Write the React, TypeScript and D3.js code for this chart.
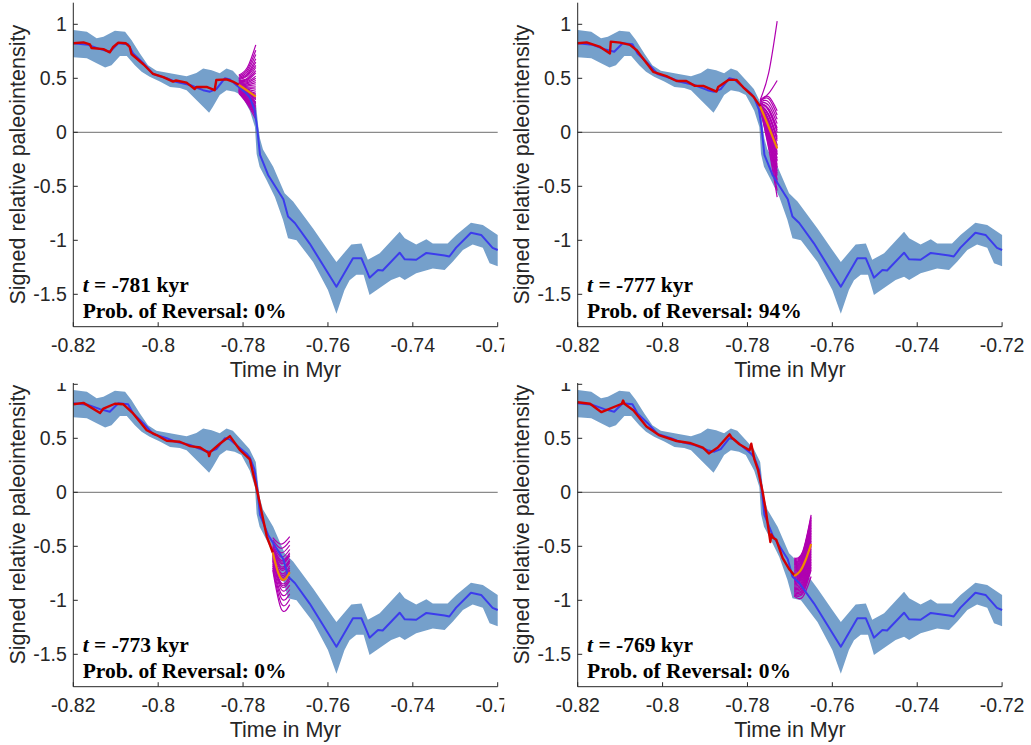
import React from 'react';
import * as d3 from 'd3';

// ---------- axis ticks ----------
const xTicks = [-0.82, -0.8, -0.78, -0.76, -0.74, -0.72];
const xTickLabels = ['-0.82', '-0.8', '-0.78', '-0.76', '-0.74', '-0.72'];
const yTicks = [1, 0.5, 0, -0.5, -1, -1.5];
const yTickLabels = ['1', '0.5', '0', '-0.5', '-1', '-1.5'];

// ---------- shared reconstruction (time in kyr, signed intensity) ----------
const meanCurve: [number, number][] = [
  [-820, 0.824], [-816.5, 0.81], [-813.7, 0.77], [-811.4, 0.746], [-809.4, 0.824],
  [-807.1, 0.815], [-805.9, 0.73], [-803.5, 0.64], [-801.2, 0.54], [-798, 0.5],
  [-796.1, 0.47], [-792.5, 0.438], [-789.4, 0.39], [-787.8, 0.376], [-786.3, 0.4],
  [-784.3, 0.5], [-783.1, 0.49], [-781.6, 0.438], [-779.2, 0.36], [-778.4, 0.32],
  [-777.3, 0.21], [-776.7, 0.05], [-776.3, -0.1], [-776.0, -0.21], [-774.1, -0.395],
  [-772.1, -0.52], [-770.5, -0.62], [-769.4, -0.78], [-767.8, -0.84], [-764.3, -1.03],
  [-758.0, -1.43], [-754.1, -1.167], [-752.1, -1.167], [-750.2, -1.346], [-748.2, -1.275],
  [-747.1, -1.28], [-743.1, -1.115], [-741.9, -1.176], [-739.2, -1.18], [-736.8, -1.117],
  [-732.5, -1.14], [-731.4, -1.15], [-729.8, -1.068], [-726.3, -0.93], [-723.9, -0.95],
  [-721.2, -1.07], [-720, -1.09],
];

const bandUpper: [number, number][] = [
  [-820, 0.947], [-816.8, 0.93], [-814.5, 0.87], [-812.9, 0.885], [-810.2, 0.94],
  [-807.8, 0.93], [-806.3, 0.855], [-804.3, 0.73], [-802.4, 0.62], [-800.4, 0.57],
  [-797.2, 0.546], [-793.3, 0.52], [-791, 0.55], [-789.4, 0.59], [-787.4, 0.575],
  [-785.5, 0.546], [-783.9, 0.59], [-782.4, 0.57], [-780.4, 0.484], [-778.5, 0.4],
  [-777.0, 0.28], [-776.4, 0.05], [-776.0, -0.06], [-775.3, -0.16], [-772.9, -0.32],
  [-770.2, -0.565], [-768.2, -0.64], [-763.5, -0.89], [-760, -1.09], [-758, -1.2],
  [-754.5, -1.04], [-752.1, -1.03], [-750.6, -1.18], [-747.8, -1.12], [-743.1, -0.92],
  [-741.9, -0.98], [-739.2, -1.04], [-736.8, -0.99], [-735.3, -1.03], [-731.8, -1.03],
  [-729.8, -0.95], [-726.3, -0.837], [-723.5, -0.858], [-720, -0.95],
];

const bandLower: [number, number][] = [
  [-820, 0.694], [-816.8, 0.685], [-814.5, 0.64], [-812.5, 0.6], [-811, 0.62],
  [-809, 0.706], [-807.4, 0.706], [-805.5, 0.62], [-803.9, 0.56], [-802, 0.515],
  [-799.6, 0.47], [-797.2, 0.42], [-794.9, 0.41], [-793.3, 0.39], [-791, 0.3],
  [-789.4, 0.237], [-788, 0.18], [-787.1, 0.237], [-785.5, 0.345], [-783.9, 0.39],
  [-782, 0.376], [-780.4, 0.345], [-778.4, 0.2], [-777.2, 0.05], [-776.8, -0.2],
  [-776.1, -0.32], [-774.5, -0.44], [-772.5, -0.6], [-770.6, -0.81], [-769.4, -0.98],
  [-767.4, -1.0], [-763.5, -1.2], [-760, -1.46], [-758, -1.68], [-756.1, -1.46],
  [-754.9, -1.37], [-753.3, -1.32], [-751.6, -1.32], [-750.2, -1.506], [-747.4, -1.43],
  [-745.1, -1.367], [-743.1, -1.337], [-741.9, -1.367], [-739.2, -1.306], [-735.3, -1.26],
  [-732.5, -1.275], [-730.6, -1.198], [-728.2, -1.09], [-725.9, -1.04], [-723.5, -1.07],
  [-721.9, -1.213], [-720, -1.24],
];

// ---------- per-panel sequential estimates (red) ----------
const red1: [number, number][] = [
  [-820, 0.824], [-817.6, 0.833], [-816.1, 0.815], [-815.7, 0.78], [-812.9, 0.77],
  [-811.4, 0.74], [-810.6, 0.79], [-809.4, 0.83], [-807.6, 0.824], [-806.7, 0.79],
  [-806.3, 0.725], [-803.5, 0.63], [-801.2, 0.54], [-798.8, 0.51], [-796.5, 0.47],
  [-795.8, 0.48], [-793.3, 0.46], [-791.4, 0.4], [-791, 0.42], [-788.6, 0.42],
  [-786.7, 0.39], [-786.3, 0.484], [-783.9, 0.49], [-782.4, 0.47], [-781, 0.44],
];
const red2: [number, number][] = [
  [-820, 0.824], [-817.9, 0.833], [-814.7, 0.79], [-812.4, 0.73], [-812.2, 0.84],
  [-810, 0.83], [-807.7, 0.81], [-806.1, 0.76], [-802.2, 0.56], [-799.1, 0.52],
  [-796.7, 0.475], [-794.4, 0.475], [-792.4, 0.43], [-790.4, 0.43], [-787.3, 0.377],
  [-786.9, 0.42], [-784.5, 0.485], [-782.6, 0.485], [-781, 0.417], [-778.6, 0.33],
  [-777, 0.24],
];
const red3: [number, number][] = [
  [-820, 0.815], [-817.6, 0.828], [-813.7, 0.735], [-812.9, 0.775], [-810.2, 0.82],
  [-808.2, 0.815], [-805.9, 0.73], [-802.7, 0.575], [-800.4, 0.53], [-798, 0.477],
  [-794.9, 0.468], [-792.5, 0.428], [-790.1, 0.415], [-788.2, 0.366], [-788, 0.335],
  [-787.7, 0.375], [-785.4, 0.452], [-783.1, 0.52], [-780.7, 0.39], [-778.4, 0.305],
  [-776.6, 0], [-775.6, -0.19], [-774.4, -0.41], [-773, -0.557],
];
const red4: [number, number][] = [
  [-820, 0.834], [-817.1, 0.82], [-814.4, 0.742], [-809.6, 0.82], [-809.3, 0.85],
  [-809.0, 0.82], [-806.9, 0.76], [-803.8, 0.61], [-800.7, 0.527], [-796.7, 0.475],
  [-793.6, 0.457], [-790.5, 0.414], [-789.1, 0.36], [-787, 0.414], [-784.2, 0.537],
  [-783.8, 0.51], [-781.9, 0.445], [-779.5, 0.39], [-779.1, 0.45], [-778.4, 0.31],
  [-777.5, 0.205], [-776.4, 0], [-775.6, -0.19], [-774.6, -0.46], [-774.4, -0.39],
  [-774.0, -0.42], [-773.2, -0.44], [-771.7, -0.61], [-770.1, -0.715], [-768.9, -0.77],
];

// ---------- forecast mean (orange) ----------
const orange1: [number, number][] = [[-781, 0.44], [-779, 0.385], [-777, 0.33]];
const orange2: [number, number][] = [[-777, 0.24], [-775, 0.05], [-773, -0.15]];
const orange3: [number, number][] = [[-773, -0.557], [-772, -0.71], [-771, -0.8], [-770, -0.8], [-769, -0.74]];
const orange4: [number, number][] = [[-769, -0.775], [-767.7, -0.735], [-766.3, -0.627], [-765, -0.479]];

// ---------- forecast ensembles (magenta): values at t0, t0+2, t0+4 kyr ----------
const fan1: number[][] = [
  [0.53, 0.6, 0.81], [0.52, 0.58, 0.76], [0.51, 0.56, 0.72], [0.5, 0.54, 0.68],
  [0.5, 0.53, 0.65], [0.49, 0.52, 0.62], [0.48, 0.5, 0.6], [0.48, 0.49, 0.57],
  [0.47, 0.48, 0.55], [0.46, 0.47, 0.52], [0.46, 0.46, 0.5], [0.45, 0.45, 0.48],
  [0.45, 0.44, 0.46], [0.44, 0.43, 0.44], [0.44, 0.42, 0.42], [0.43, 0.41, 0.4],
  [0.43, 0.4, 0.38], [0.42, 0.39, 0.36], [0.42, 0.38, 0.34], [0.41, 0.37, 0.32],
  [0.41, 0.36, 0.3], [0.4, 0.35, 0.28], [0.4, 0.34, 0.26], [0.39, 0.33, 0.24],
  [0.39, 0.31, 0.22], [0.38, 0.3, 0.2], [0.38, 0.29, 0.18], [0.37, 0.27, 0.15],
  [0.36, 0.26, 0.12], [0.42, 0.385, 0.35], [0.41, 0.365, 0.31], [0.40, 0.345, 0.27],
  [0.39, 0.32, 0.23], [0.38, 0.295, 0.19], [0.37, 0.28, 0.165],
];
const fan2: number[][] = [
  [0.3, 0.55, 1.03], [0.29, 0.36, 0.48], [0.3, 0.33, 0.2], [0.29, 0.31, 0.16],
  [0.28, 0.28, 0.12], [0.28, 0.25, 0.08], [0.27, 0.22, 0.04], [0.27, 0.2, 0.0],
  [0.26, 0.17, -0.04], [0.26, 0.15, -0.08], [0.26, 0.12, -0.12], [0.25, 0.1, -0.15],
  [0.25, 0.08, -0.18], [0.25, 0.06, -0.21], [0.24, 0.04, -0.24], [0.24, 0.02, -0.27],
  [0.24, 0.0, -0.3], [0.23, -0.02, -0.33], [0.23, -0.04, -0.36], [0.23, -0.06, -0.4],
  [0.22, -0.08, -0.44], [0.22, -0.1, -0.48], [0.22, -0.13, -0.54], [0.22, -0.15, -0.6],
  [0.27, 0.21, 0.02], [0.26, 0.16, -0.06], [0.25, 0.11, -0.13], [0.25, 0.07, -0.2],
  [0.24, 0.03, -0.26], [0.23, -0.01, -0.32], [0.23, -0.05, -0.38], [0.22, -0.09, -0.46],
];
const fan3: number[][] = [
  [-0.42, -0.48, -0.41], [-0.44, -0.52, -0.45], [-0.46, -0.56, -0.49], [-0.48, -0.6, -0.53],
  [-0.5, -0.63, -0.56], [-0.52, -0.66, -0.59], [-0.53, -0.69, -0.62], [-0.55, -0.72, -0.65],
  [-0.56, -0.75, -0.68], [-0.58, -0.78, -0.72], [-0.6, -0.81, -0.75], [-0.61, -0.84, -0.78],
  [-0.63, -0.87, -0.82], [-0.64, -0.9, -0.86], [-0.66, -0.94, -0.9], [-0.68, -0.98, -0.94],
  [-0.7, -1.03, -0.99], [-0.72, -1.08, -1.04], [-0.51, -0.645, -0.575], [-0.54, -0.705, -0.635],
  [-0.57, -0.765, -0.7], [-0.59, -0.795, -0.735], [-0.62, -0.855, -0.8],
];
const fan4: number[][] = [
  [-0.61, -0.55, -0.21], [-0.62, -0.56, -0.225], [-0.63, -0.57, -0.24], [-0.64, -0.58, -0.255],
  [-0.65, -0.59, -0.27], [-0.66, -0.6, -0.285], [-0.67, -0.61, -0.3], [-0.68, -0.62, -0.315],
  [-0.69, -0.63, -0.33], [-0.7, -0.64, -0.345], [-0.71, -0.65, -0.36], [-0.72, -0.66, -0.375],
  [-0.73, -0.67, -0.39], [-0.74, -0.68, -0.405], [-0.75, -0.69, -0.42], [-0.76, -0.7, -0.435],
  [-0.77, -0.71, -0.45], [-0.78, -0.72, -0.465], [-0.79, -0.73, -0.48], [-0.8, -0.74, -0.495],
  [-0.81, -0.75, -0.51], [-0.82, -0.76, -0.525], [-0.83, -0.77, -0.54], [-0.84, -0.78, -0.555],
  [-0.85, -0.79, -0.57], [-0.86, -0.805, -0.585], [-0.87, -0.82, -0.6], [-0.88, -0.835, -0.615],
  [-0.89, -0.85, -0.63], [-0.9, -0.865, -0.645], [-0.91, -0.88, -0.66], [-0.92, -0.895, -0.675],
  [-0.93, -0.91, -0.69], [-0.94, -0.925, -0.705], [-0.95, -0.94, -0.72], [-0.96, -0.97, -0.78],
];

const panelTimes = [-781, -777, -773, -769];
const panelProbs = ['0%', '94%', '0%', '0%'];

const COLORS = {
  band: '#75a0cb',
  mean: '#3c3cec',
  red: '#d40000',
  orange: '#f08a00',
  fan: '#b000b0',
  zero: '#6e6e6e',
  axis: '#262626',
};

const AX = { left: 73.3, right: 497.7, top: 2.7, bottom: 326.7 };
const SANS = '"Liberation Sans", Arial, Helvetica, sans-serif';
const SERIF = '"Liberation Serif", "Times New Roman", serif';

type PanelProps = {
  id: string;
  ox: number;
  oy: number;
  clip: [number, number, number, number];
  red: [number, number][];
  orange: [number, number][];
  fan: number[][];
  t0: number;
  prob: string;
};

function Panel({ id, ox, oy, clip, red, orange, fan, t0, prob }: PanelProps) {
  const x = d3.scaleLinear().domain([-0.82, -0.72]).range([AX.left, AX.right]);
  const y = d3.scaleLinear().domain([-1.8, 1.2]).range([AX.bottom, AX.top]);
  const xk = (k: number) => x(k / 1000);
  const line = d3.line<[number, number]>().x((d) => xk(d[0])).y((d) => y(d[1]));
  const smooth = d3
    .line<[number, number]>()
    .x((d) => xk(d[0]))
    .y((d) => y(d[1]))
    .curve(d3.curveNatural);
  const bandPath = (line([...bandUpper, ...bandLower.slice().reverse()]) || '') + 'Z';
  const fanLine = d3
    .line<number>()
    .x((_, i) => xk(t0 + i * 2))
    .y((d) => y(d))
    .curve(d3.curveNatural);

  return (
    <g clipPath={`url(#${id})`}>
      <defs>
        <clipPath id={id}>
          <rect x={clip[0]} y={clip[1]} width={clip[2]} height={clip[3]} />
        </clipPath>
      </defs>
      <rect x={clip[0]} y={clip[1]} width={clip[2]} height={clip[3]} fill="#fff" />
      <g transform={`translate(${ox},${oy})`}>
        <path d={bandPath} fill={COLORS.band} stroke="none" />
        <line x1={AX.left} x2={AX.right} y1={y(0)} y2={y(0)} stroke={COLORS.zero} strokeWidth={1} />
        {fan.map((f, i) => (
          <path key={i} d={fanLine(f) || ''} fill="none" stroke={COLORS.fan} strokeWidth={1.2} />
        ))}
        <path d={line(meanCurve) || ''} fill="none" stroke={COLORS.mean} strokeWidth={2} strokeLinejoin="round" />
        <path d={line(red) || ''} fill="none" stroke={COLORS.red} strokeWidth={2.4} strokeLinejoin="round" />
        <path d={smooth(orange) || ''} fill="none" stroke={COLORS.orange} strokeWidth={2.2} />

        {/* axes */}
        <line x1={AX.left} x2={AX.left} y1={AX.top} y2={AX.bottom} stroke={COLORS.axis} strokeWidth={1} />
        <line x1={AX.left} x2={AX.right} y1={AX.bottom} y2={AX.bottom} stroke={COLORS.axis} strokeWidth={1} />
        {xTicks.map((t, i) => (
          <g key={'x' + i}>
            <line x1={x(t)} x2={x(t)} y1={AX.bottom} y2={AX.bottom - 4.5} stroke={COLORS.axis} strokeWidth={1} />
            <text x={x(t)} y={AX.bottom + 25} textAnchor="middle" fontFamily={SANS} fontSize={19.5} fill="#262626">
              {xTickLabels[i]}
            </text>
          </g>
        ))}
        {yTicks.map((t, i) => (
          <g key={'y' + i}>
            <line x1={AX.left} x2={AX.left + 4.5} y1={y(t)} y2={y(t)} stroke={COLORS.axis} strokeWidth={1} />
            <text x={AX.left - 6.5} y={y(t) + 6.5} textAnchor="end" fontFamily={SANS} fontSize={19.5} fill="#262626">
              {yTickLabels[i]}
            </text>
          </g>
        ))}
        <text
          x={(AX.left + AX.right) / 2}
          y={AX.bottom + 50}
          textAnchor="middle"
          fontFamily={SANS}
          fontSize={21.5}
          fill="#262626"
        >
          Time in Myr
        </text>
        <text
          transform={`translate(25,${(AX.top + AX.bottom) / 2}) rotate(-90)`}
          textAnchor="middle"
          fontFamily={SANS}
          fontSize={21.5}
          fill="#262626"
        >
          Signed relative paleointensity
        </text>

        {/* annotation */}
        <text x={AX.left + 9.4} y={291.5} fontFamily={SERIF} fontSize={21.5} fontWeight="bold" fill="#000">
          <tspan fontStyle="italic">t</tspan>
          {` = ${t0} kyr`}
        </text>
        <text x={AX.left + 9.4} y={317.5} fontFamily={SERIF} fontSize={21.5} fontWeight="bold" fill="#000">
          {`Prob. of Reversal: ${prob}`}
        </text>
      </g>
    </g>
  );
}

export default function App() {
  const DX = 504.4;
  const DY = 360;
  const CY = 383;
  return (
    <svg
      width={1031}
      height={745}
      viewBox="0 0 1031 745"
      style={{ position: 'absolute', left: 0, top: 0, background: '#fff' }}
    >
      <Panel id="c3" ox={0} oy={DY} clip={[0, CY, DX, 745 - CY]} red={red3} orange={orange3} fan={fan3} t0={panelTimes[2]} prob={panelProbs[2]} />
      <Panel id="c4" ox={DX} oy={DY} clip={[DX, CY, 1031 - DX, 745 - CY]} red={red4} orange={orange4} fan={fan4} t0={panelTimes[3]} prob={panelProbs[3]} />
      <Panel id="c1" ox={0} oy={0} clip={[0, 0, DX, CY]} red={red1} orange={orange1} fan={fan1} t0={panelTimes[0]} prob={panelProbs[0]} />
      <Panel id="c2" ox={DX} oy={0} clip={[DX, 0, 1031 - DX, CY]} red={red2} orange={orange2} fan={fan2} t0={panelTimes[1]} prob={panelProbs[1]} />
    </svg>
  );
}
